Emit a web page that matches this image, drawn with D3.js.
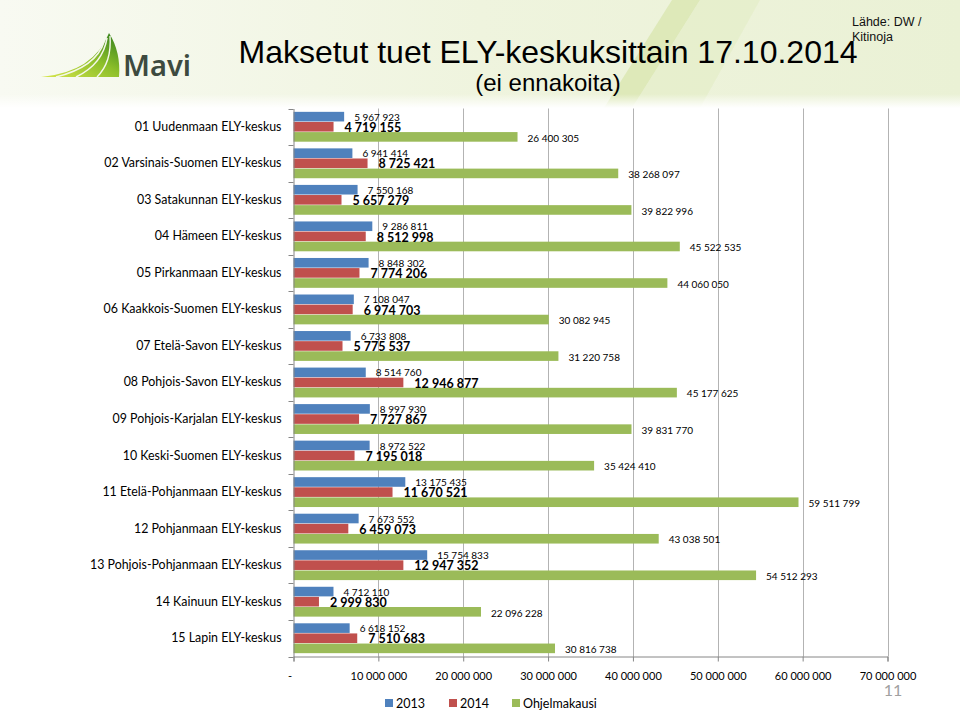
<!DOCTYPE html>
<html><head><meta charset="utf-8">
<script src="https://cdn.jsdelivr.net/npm/d3@7"></script>
<style>
html,body{margin:0;padding:0;background:#fff;}
svg{display:block;}
</style></head>
<body>
<svg id="chart" width="960" height="712"></svg>
<script>
const categories = [
  "01 Uudenmaan ELY-keskus",
  "02 Varsinais-Suomen ELY-keskus",
  "03 Satakunnan ELY-keskus",
  "04 Hämeen ELY-keskus",
  "05 Pirkanmaan ELY-keskus",
  "06 Kaakkois-Suomen ELY-keskus",
  "07 Etelä-Savon ELY-keskus",
  "08 Pohjois-Savon ELY-keskus",
  "09 Pohjois-Karjalan ELY-keskus",
  "10 Keski-Suomen ELY-keskus",
  "11 Etelä-Pohjanmaan ELY-keskus",
  "12 Pohjanmaan ELY-keskus",
  "13 Pohjois-Pohjanmaan ELY-keskus",
  "14 Kainuun ELY-keskus",
  "15 Lapin ELY-keskus"
];
const values2013 = [5967923, 6941414, 7550168, 9286811, 8848302, 7108047, 6733808, 8514760, 8997930, 8972522, 13175435, 7673552, 15754833, 4712110, 6618152];
const values2014 = [4719155, 8725421, 5657279, 8512998, 7774206, 6974703, 5775537, 12946877, 7727867, 7195018, 11670521, 6459073, 12947352, 2999830, 7510683];
const valuesOhjelmakausi = [26400305, 38268097, 39822996, 45522535, 44060050, 30082945, 31220758, 45177625, 39831770, 35424410, 59511799, 43038501, 54512293, 22096228, 30816738];
const seriesNames = ["2013", "2014", "Ohjelmakausi"];
const tickValues = [0, 10000000, 20000000, 30000000, 40000000, 50000000, 60000000, 70000000];

const colors = {"2013": "#4F81BD", "2014": "#C0504D", "Ohjelmakausi": "#9BBB59"};
const font = "Lato, 'Open Sans', sans-serif";
const svg = d3.select("#chart");

// header background
const defs = svg.append("defs");
const hg = defs.append("linearGradient").attr("id", "hdr").attr("x1", "0").attr("x2", "1").attr("y1", "0").attr("y2", "0");
hg.append("stop").attr("offset", "0").attr("stop-color", "#f8faf2");
hg.append("stop").attr("offset", "0.5").attr("stop-color", "#eff4de");
hg.append("stop").attr("offset", "1").attr("stop-color", "#eaf1d5");
const fade = defs.append("linearGradient").attr("id", "fade").attr("x1", "0").attr("x2", "0").attr("y1", "0").attr("y2", "1");
fade.append("stop").attr("offset", "0").attr("stop-color", "#fff").attr("stop-opacity", 0);
fade.append("stop").attr("offset", "1").attr("stop-color", "#fff").attr("stop-opacity", 1);
svg.append("rect").attr("x", 0).attr("y", 0).attr("width", 960).attr("height", 108).attr("fill", "url(#hdr)");
svg.append("path").attr("d", "M672,0 L700,0 L632,108 L604,108 Z").attr("fill", "#d9e6b0").attr("opacity", 0.8);
svg.append("path").attr("d", "M700,0 L760,0 L700,108 L632,108 Z").attr("fill", "#e3ecc4").attr("opacity", 0.6);
svg.append("rect").attr("x", 0).attr("y", 94).attr("width", 960).attr("height", 14).attr("fill", "url(#fade)");

// logo
const lg = defs.append("linearGradient").attr("id", "logo").attr("x1", "0").attr("x2", "1").attr("y1", "1").attr("y2", "0");
lg.append("stop").attr("offset", "0").attr("stop-color", "#d8e64c");
lg.append("stop").attr("offset", "0.55").attr("stop-color", "#8cbf2a");
lg.append("stop").attr("offset", "1").attr("stop-color", "#2f7d1c");
const logo = svg.append("g");
logo.append("path").attr("d", "M41,77 Q94,72 109,33 Q121,52 119,77 Z").attr("fill", "url(#logo)");
logo.append("path").attr("d", "M56,77 Q96,67 104,42").attr("fill", "none").attr("stroke", "#f4f7ea").attr("stroke-width", 1.6);
logo.append("path").attr("d", "M76,77 Q103,64 107,38").attr("fill", "none").attr("stroke", "#f4f7ea").attr("stroke-width", 1.6);
logo.append("path").attr("d", "M97,77 Q112,62 110,36").attr("fill", "none").attr("stroke", "#f4f7ea").attr("stroke-width", 1.4);
logo.append("text").attr("x", 123).attr("y", 76).text("Mavi")
  .attr("font-family", "'Noto Sans', Lato, sans-serif").attr("font-size", 29).attr("font-weight", 600).attr("fill", "#3d4a3f");

// titles
svg.append("text").attr("x", 548).attr("y", 63).attr("text-anchor", "middle")
  .attr("font-family", "'Liberation Sans', Arial, sans-serif").attr("font-size", 32).attr("fill", "#000")
  .text("Maksetut tuet ELY-keskuksittain 17.10.2014");
svg.append("text").attr("x", 548).attr("y", 91).attr("text-anchor", "middle")
  .attr("font-family", "'Liberation Sans', Arial, sans-serif").attr("font-size", 24).attr("fill", "#000")
  .text("(ei ennakoita)");
svg.append("text").attr("x", 852).attr("y", 26)
  .attr("font-family", "'Liberation Sans', Arial, sans-serif").attr("font-size", 12.5).attr("fill", "#111")
  .text("Lähde: DW /");
svg.append("text").attr("x", 852).attr("y", 41)
  .attr("font-family", "'Liberation Sans', Arial, sans-serif").attr("font-size", 12.5).attr("fill", "#111")
  .text("Kitinoja");

// scales
const x = d3.scaleLinear().domain([0, 70000000]).range([293.5, 887.5]);
const y = d3.scaleBand().domain(categories).range([108.5, 656.5]).padding(0);
const ySub = d3.scaleBand().domain(seriesNames).range([0, y.bandwidth()]).paddingInner(0.05).paddingOuter(0.33);

const fmt = v => d3.format(",")(v).replace(/,/g, " ");

// gridlines
svg.append("g").selectAll("line").data(tickValues.slice(1)).join("line")
  .attr("x1", d => Math.round(x(d)) + 0.5).attr("x2", d => Math.round(x(d)) + 0.5)
  .attr("y1", 108.5).attr("y2", 656.5)
  .attr("stroke", "#b3b3b3").attr("stroke-width", 1);

// data rows
const rows = categories.map((c, i) => ({
  cat: c,
  vals: [
    {key: "2013", v: values2013[i]},
    {key: "2014", v: values2014[i]},
    {key: "Ohjelmakausi", v: valuesOhjelmakausi[i]}
  ]
}));

const groups = svg.append("g").selectAll("g").data(rows).join("g")
  .attr("transform", d => `translate(0,${y(d.cat)})`);

groups.selectAll("rect").data(d => d.vals).join("rect")
  .attr("x", x(0))
  .attr("y", d => ySub(d.key))
  .attr("width", d => x(d.v) - x(0))
  .attr("height", ySub.bandwidth())
  .attr("fill", d => colors[d.key]);

const dyMap = {"2013": 4.1, "2014": 5.2, "Ohjelmakausi": 4.7};
groups.selectAll("text").data(d => d.vals).join("text")
  .attr("x", d => x(d.v) + (d.key === "2014" ? 11 : 10))
  .attr("y", d => ySub(d.key) + ySub.bandwidth() / 2 + dyMap[d.key])
  .attr("font-family", font)
  .attr("font-size", d => d.key === "2014" ? 12.5 : 10)
  .attr("font-weight", d => d.key === "2014" ? 700 : 400)
  .attr("fill", "#000")
  .text(d => fmt(d.v));

// x axis
const xAxis = d3.axisBottom(x).tickValues(tickValues).tickSize(5)
  .tickFormat(d => d === 0 ? "-" : fmt(d));
const gx = svg.append("g").attr("transform", "translate(0,656.5)").call(xAxis);
gx.select(".domain").attr("stroke", "#868686");
gx.selectAll(".tick line").attr("stroke", "#868686");
gx.selectAll(".tick text").attr("font-family", font).attr("font-size", 11).attr("fill", "#000").attr("dy", "1.45em");
gx.selectAll(".tick text").filter(d => d === 0).attr("dx", -4);

// y axis
const yAxis = d3.axisLeft(y).tickSize(0).tickPadding(12);
const gy = svg.append("g").attr("transform", "translate(293.5,0)").call(yAxis);
gy.select(".domain").attr("stroke", "#868686");
gy.selectAll(".tick text").attr("font-family", font).attr("font-size", 12.4).attr("fill", "#000");
// category separator ticks
svg.append("g").selectAll("line").data(categories.map(c => y(c)).concat([656.5])).join("line")
  .attr("x1", 288.5).attr("x2", 293.5)
  .attr("y1", d => Math.round(d) + 0.5).attr("y2", d => Math.round(d) + 0.5)
  .attr("stroke", "#868686");

// legend
const legendX = [385, 449, 512];
const lgG = svg.append("g").selectAll("g").data(seriesNames).join("g")
  .attr("transform", (d, i) => `translate(${legendX[i]},699)`);
lgG.append("rect").attr("width", 8).attr("height", 8).attr("fill", d => colors[d]);
lgG.append("text").attr("x", 11).attr("y", 4).attr("dy", "0.38em")
  .attr("font-family", font).attr("font-size", 12.5).attr("fill", "#000").text(d => d);

// page number
svg.append("text").attr("x", 893).attr("y", 696).attr("text-anchor", "middle")
  .attr("font-family", font).attr("font-size", 16).attr("fill", "#a0a0a0").text("11");
</script>
</body></html>
